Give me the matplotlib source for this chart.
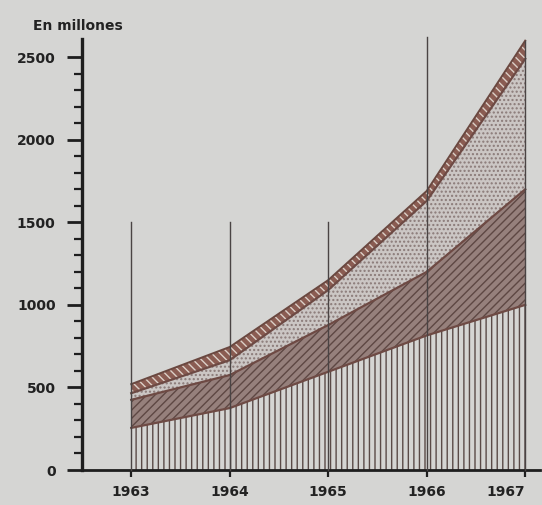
#!/usr/bin/env python3
"""
Stacked area chart, 1963-1967, values in millions.

Four hatched layers stacked on top of each other, drawn in the
old printed-brochure style (vertical stripes, diagonal hatch, dots).
"""

import matplotlib

matplotlib.use("Agg")  # Non-interactive backend

import matplotlib.pyplot as plt
import numpy as np

# Data (millions)
years = [1963, 1964, 1965, 1966, 1967]
layer_stripes = [255, 375, 595, 815, 1000]
layer_hatch = [170, 200, 283, 385, 700]
layer_dots = [40, 90, 212, 430, 790]
layer_band = [55, 80, 60, 60, 110]

# Height of the vertical guide line drawn at each year
guide_tops = [1500, 1500, 1500, 2620, None]

y_ticks = [0, 500, 1000, 1500, 2000, 2500]
y_label = "En millones"

BG = "#d5d5d3"
BROWN = "#6e4a44"
HATCH_FILL = "#96807c"


def build_figure():
    fig = plt.figure(figsize=(5.42, 5.05), dpi=100, facecolor=BG)
    ax = fig.add_axes([82 / 542, 35 / 505, 458 / 542, 431 / 505], facecolor=BG)

    x = np.array(years, dtype=float)
    b1 = np.array(layer_stripes, dtype=float)
    b2 = b1 + np.array(layer_hatch)
    b3 = b2 + np.array(layer_dots)
    b4 = b3 + np.array(layer_band)

    plt.rcParams["hatch.linewidth"] = 1.0

    # Layer fills (hatch colour comes from edgecolor)
    ax.fill_between(x, 0, b1, facecolor=BG, edgecolor="#5a4a47", hatch="|||", linewidth=0)
    ax.fill_between(x, b1, b2, facecolor=HATCH_FILL, edgecolor="#5e4743", hatch="////", linewidth=0)
    ax.fill_between(x, b2, b3, facecolor="#cbc6c4", edgecolor="#8a7a78", hatch="....", linewidth=0)
    ax.fill_between(x, b3, b4, facecolor="#8a5c52", edgecolor="#dcd0c8", hatch="\\\\\\\\", linewidth=0)

    # Layer boundaries
    for top in (b1, b2, b3):
        ax.plot(x, top, color=BROWN, linewidth=1.6, zorder=3)
    ax.plot(x, b4, color="#6a4840", linewidth=1.4, zorder=3)

    # Vertical guide lines
    for yr, top, total in zip(years, guide_tops, b4):
        height = total if top is None else top
        ax.plot([yr, yr], [0, height], color="#4a4444", linewidth=1.0, zorder=4, clip_on=False)

    ax.set_xlim(1962.5, 1967.15)
    ax.set_ylim(0, 2610)

    # Axes styling
    for side in ("top", "right"):
        ax.spines[side].set_visible(False)
    ax.spines["left"].set_linewidth(2.4)
    ax.spines["bottom"].set_linewidth(2.0)
    ax.spines["left"].set_color("#1e1e1e")
    ax.spines["bottom"].set_color("#1e1e1e")

    ax.set_yticks(y_ticks)
    ax.set_yticks(np.arange(100, 2600, 100), minor=True)
    ax.set_xticks(years)
    ax.set_xticklabels([str(y) for y in years])

    ax.tick_params(axis="y", which="major", length=11, width=2.0, color="#1e1e1e", pad=8)
    ax.tick_params(axis="y", which="minor", length=6, width=1.6, color="#1e1e1e")
    ax.tick_params(axis="x", which="major", length=5, width=1.6, color="#1e1e1e", pad=6)

    for lbl in ax.get_yticklabels() + ax.get_xticklabels():
        lbl.set_fontfamily("DejaVu Sans")
        lbl.set_fontweight("bold")
        lbl.set_fontsize(10)
        lbl.set_color("#222222")

    # last year label sits at the right edge; keep it inside the figure
    ax.get_xticklabels()[-1].set_horizontalalignment("right")
    ax.get_xticklabels()[-1].set_x(1967.17)

    fig.text(33 / 542, 1 - 26 / 505, y_label, fontsize=10, fontweight="bold",
             color="#222222", va="center", ha="left")

    return fig


def main():
    fig = build_figure()
    fig.savefig("out.png", dpi=100, facecolor=BG)
    plt.close(fig)


if __name__ == "__main__":
    main()
